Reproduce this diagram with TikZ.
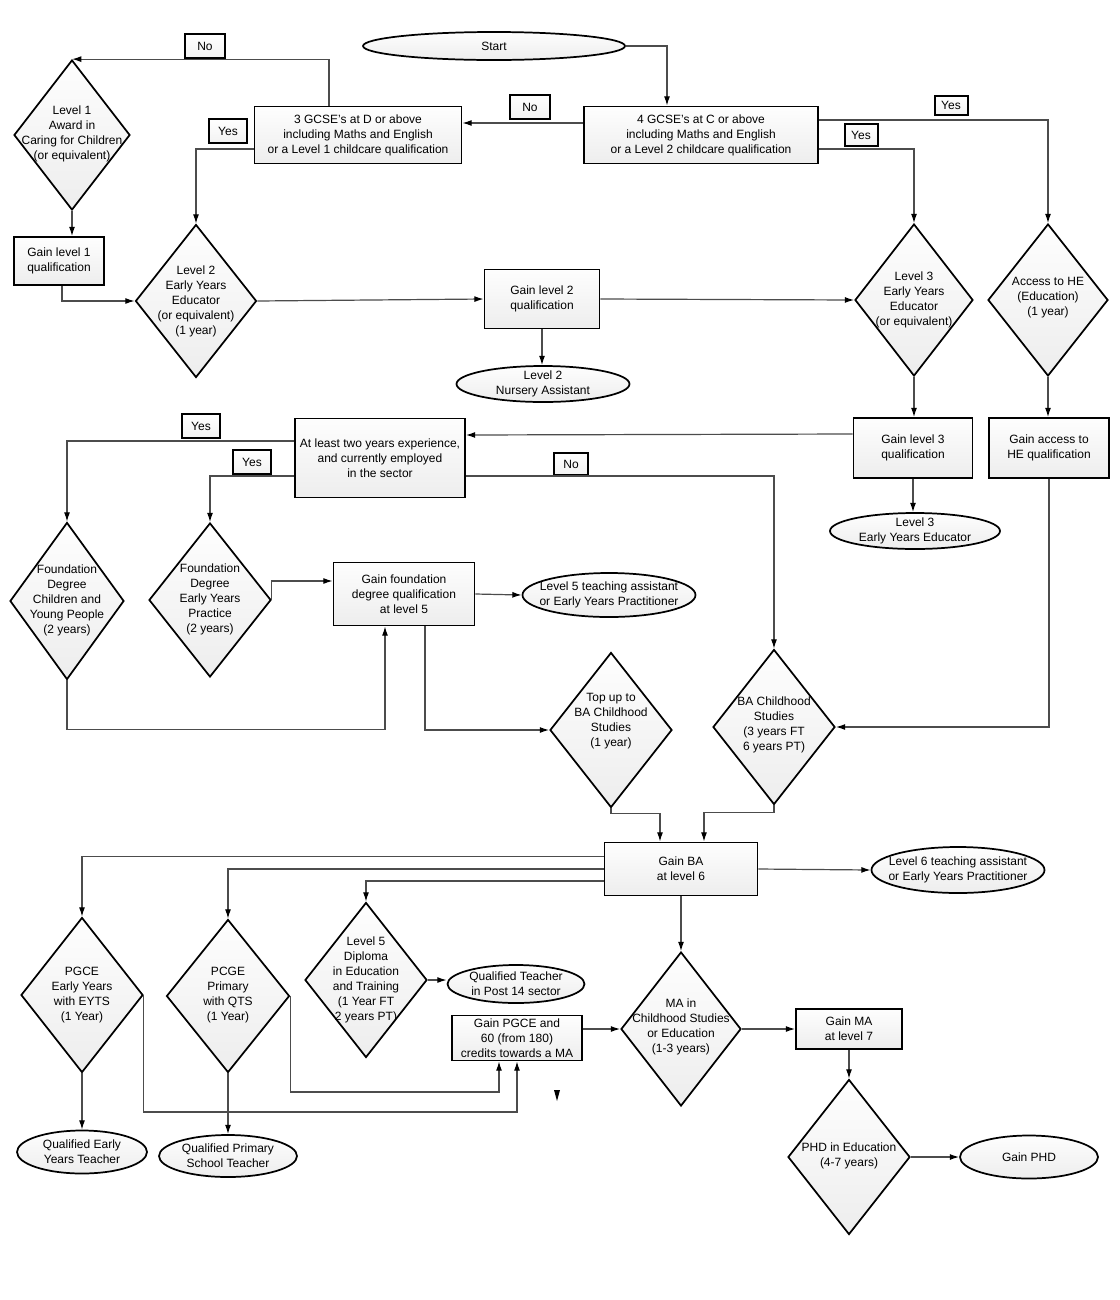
\documentclass[tikz,border=0pt]{standalone}
\usepackage{fontspec}
\setmainfont{Liberation Sans}
\usetikzlibrary{shapes.geometric,arrows.meta,calc}
\newcommand{\dgfont}{\fontsize{9}{11.25}\selectfont}
\tikzset{
 wh/.style 2 args={minimum width=#1*0.75pt, minimum height=#2*0.75pt},
 shp/.style={draw=black, line width=1.3pt, top color=gray!1, bottom color=gray!14, inner sep=0pt},
 box/.style={shp, rectangle, align=center, font=\dgfont},
 diam/.style={shp, diamond},
 ellp/.style={shp, ellipse},
 txt/.style={align=center, inner sep=0pt, font=\dgfont},
 lbl/.style={draw=black, line width=1.5pt, top color=white, bottom color=gray!10, inner sep=0pt, font=\dgfont},
 conn/.style={draw=gray!60!black, line width=0.9pt, -{Latex[length=7pt,width=4.5pt,color=black]}},
}
% name x y w h texty text
\newcommand{\dianode}[7]{%
  \node[diam, wh={#4}{#5}] (#1) at (#2,#3) {};
  \node[txt] (#1t) at (#2,#6) {#7};}
% name x y w h text
\newcommand{\ellnode}[6]{%
  \node[ellp, wh={#4}{#5}] (#1) at (#2,#3) {};
  \node[txt] (#1t) at (#2,#3) {#6};}
\begin{document}
\begin{tikzpicture}[x=0.75pt,y=-0.75pt]
\useasboundingbox[fill=white] (0,0) rectangle (1120,1300);

% rectangles
\node[box, wh={207}{57}] (g3) at (358,135) {3 GCSE's at D or above\\including Maths and English\\or a Level 1 childcare qualification};
\node[box, wh={234}{57}] (g4) at (701,135) {4 GCSE's at C or above\\including Maths and English\\or a Level 2 childcare qualification};
\node[box, wh={90}{48}] (gl1) at (59,261) {Gain level 1\\qualification};
\node[box, wh={115}{59}] (gl2) at (542,299) {Gain level 2\\qualification};
\node[box, wh={119}{60}] (gl3) at (913,448) {Gain level 3\\qualification};
\node[box, wh={120}{60}] (ghe) at (1049,448) {Gain access to\\HE qualification};
\node[box, wh={170}{79}] (exp) at (380,458) {At least two years experience,\\and currently employed\\in the sector};
\node[box, wh={141}{63}] (gfd) at (404,594) {Gain foundation\\degree qualification\\at level 5};
\node[box, wh={153}{53}] (gba) at (681,869) {Gain BA\\at level 6};
\node[box, wh={130}{45}] (gpg) at (517,1038) {Gain PGCE and\\60 (from 180)\\credits towards a MA};
\node[box, wh={106}{40}] (gma) at (849,1029) {Gain MA\\at level 7};

% ellipses
\ellnode{start}{494}{46}{262}{28}{Start}
\ellnode{nurs}{543}{384}{173}{36}{Level 2\\Nursery Assistant}
\ellnode{l3e}{915}{531}{170}{36}{Level 3\\Early Years Educator}
\ellnode{l5e}{609}{595}{173}{44}{Level 5 teaching assistant\\or Early Years Practitioner}
\ellnode{l6e}{958}{870}{173}{46}{Level 6 teaching assistant\\or Early Years Practitioner}
\ellnode{qt}{516}{984}{137}{38}{Qualified Teacher\\in Post 14 sector}
\ellnode{qey}{82}{1152}{130}{43}{Qualified Early\\Years Teacher}
\ellnode{qps}{228}{1156}{138}{42}{Qualified Primary\\School Teacher}
\ellnode{gphd}{1029}{1157}{138}{43}{Gain PHD}

% diamonds
\dianode{d1}{72}{135}{116}{150}{134}{Level 1\\Award in\\Caring for Children\\(or equivalent)}
\dianode{d2}{196}{301}{121}{153}{301}{Level 2\\Early Years\\Educator\\(or equivalent)\\(1 year)}
\dianode{d3}{914}{300}{118}{152}{300}{Level 3\\Early Years\\Educator\\(or equivalent)}
\dianode{dhe}{1048}{300}{120}{152}{298}{Access to HE\\(Education)\\(1 year)}
\dianode{dfc}{67}{601}{114}{157}{600}{Foundation\\Degree\\Children and\\Young People\\(2 years)}
\dianode{dfe}{210}{600}{122}{154}{599}{Foundation\\Degree\\Early Years\\Practice\\(2 years)}
\dianode{dtu}{611}{730}{122}{155}{721}{Top up to\\BA Childhood\\Studies\\(1 year)}
\dianode{dba}{774}{727}{122}{155}{725}{BA Childhood\\Studies\\(3 years FT\\6 years PT)}
\dianode{dpe}{82}{995}{122}{155}{995}{PGCE\\Early Years\\with EYTS\\(1 Year)}
\dianode{dpp}{228}{996}{123}{153}{995}{PCGE\\Primary\\with QTS\\(1 Year)}
\dianode{ddp}{366}{980}{122}{155}{980}{Level 5\\Diploma\\in Education\\and Training\\(1 Year FT\\2 years PT)}
\dianode{dma}{681}{1029}{120}{154}{1027}{MA in\\Childhood Studies\\or Education\\(1-3 years)}
\dianode{dphd}{849}{1157}{122}{155}{1156}{PHD in Education\\(4-7 years)}

% yes/no labels
\node[lbl, wh={40}{24}] (no1) at (205,46) {No};
\node[lbl, wh={40}{24}] (no2) at (530,107) {No};
\node[lbl, wh={38}{24}] (yes1) at (228,131) {Yes};
\node[lbl, wh={33}{19}] (yes2) at (951,105) {Yes};
\node[lbl, wh={33}{22}] (yes3) at (861,135) {Yes};
\node[lbl, wh={38}{24}] (yes4) at (201,426) {Yes};
\node[lbl, wh={38}{24}] (yes5) at (252,462) {Yes};
\node[lbl, wh={34}{22}] (no3) at (571,464) {No};

% connectors
\draw[conn] (start.east) -| ($(g4.north)+(-34,0)$);
\draw[conn] ($(g4.west)+(0,-12)$) -- ($(g3.east)+(0,-12)$);
\draw[conn] ($(g3.north)+(-29,0)$) |- (d1.north);
\draw[conn] ($(g3.west)+(0,14)$) -| (d2.north);
\draw[conn] (d1.south) -- (d1.south |- gl1.north);
\draw[conn] ($(gl1.south)+(3,0)$) |- (d2.west);
\draw[conn] (d2.east) -- (gl2.west);
\draw[conn] (gl2.south) -- (gl2.south |- nurs.north);
\draw[conn] (gl2.east) -- (d3.west);
\draw[conn] ($(g4.east)+(0,14)$) -| (d3.north);
\draw[conn] ($(g4.east)+(0,-15)$) -| (dhe.north);
\draw[conn] (d3.south) -- (d3.south |- gl3.north);
\draw[conn] (dhe.south) -- (dhe.south |- ghe.north);
\draw[conn] (gl3.south) -- (gl3.south |- l3e.north);
\draw[conn] ($(gl3.west)+(0,-14)$) -- ($(exp.east)+(0,-23)$);
\draw[conn] ($(exp.west)+(0,-17)$) -| (dfc.north);
\draw[conn] ($(exp.west)+(0,18)$) -| (dfe.north);
\draw[conn] ($(exp.east)+(0,18)$) -| (dba.north);
\draw[conn] (dfe.east) |- ($(gfd.west)+(0,-13)$);
\draw[conn] (dfc.south) -- ++(0,49) -| ($(gfd.south)+(-19,0)$);
\draw[conn] (gfd.east) -- (l5e.west);
\draw[conn] ($(gfd.south)+(21,0)$) |- (dtu.west);
\draw[conn] (ghe.south) |- (dba.east);
\draw[conn] (dtu.south) -- ++(0,5) -| ($(gba.north)+(-21,0)$);
\draw[conn] (dba.south) -- ++(0,7) -| ($(gba.north)+(23,0)$);
\draw[conn] (gba.east) -- (l6e.west);
\draw[conn] ($(gba.west)+(0,-12.5)$) -| (dpe.north);
\draw[conn] (gba.west) -| (dpp.north);
\draw[conn] ($(gba.west)+(0,12)$) -| (ddp.north);
\draw[conn] (gba.south) -- (dma.north);
\draw[conn] (dpe.south) -- (qey.north);
\draw[conn] (dpp.south) -- (qps.north);
\draw[conn] (ddp.east) -- (ddp.east -| qt.west);
\draw[conn] (dpe.east) -- ++(0,117) -| (gpg.south);
\draw[conn] (dpp.east) -- ++(0,96) -| ($(gpg.south)+(-18,0)$);
\draw[conn] ($(gpg.east)+(0,-9)$) -- (dma.west);
\draw[conn] (dma.east) -- (gma.west);
\draw[conn] (gma.south) -- (dphd.north);
\draw[conn] (dphd.east) -- (gphd.west);

% stray arrowhead
\fill[black] (554,1090) -- (560,1090) -- (557,1101) -- cycle;
\end{tikzpicture}
\end{document}
